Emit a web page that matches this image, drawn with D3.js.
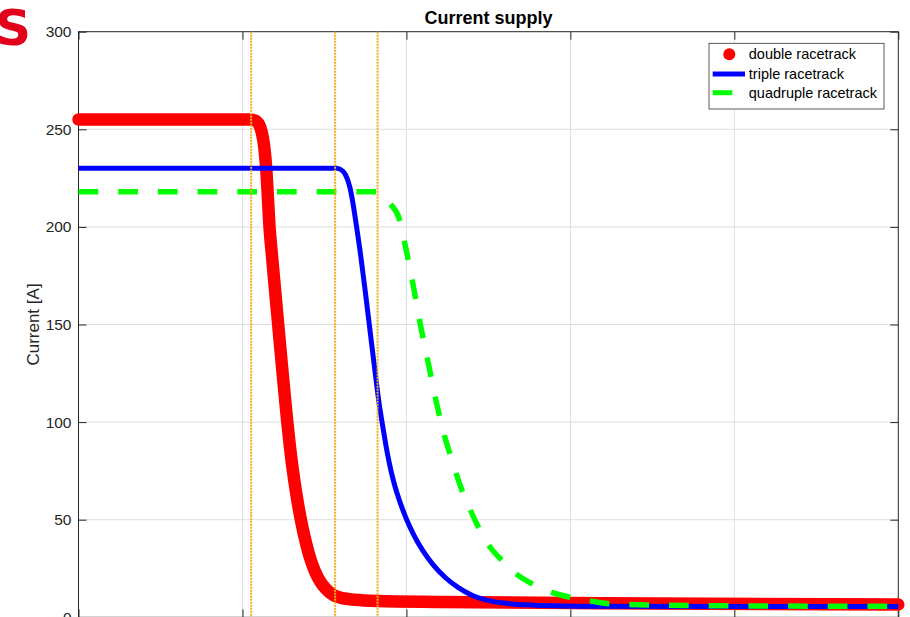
<!DOCTYPE html>
<html><head><meta charset="utf-8">
<script src="https://cdn.jsdelivr.net/npm/d3@7"></script>
<style>html,body{margin:0;padding:0;background:#fff;overflow:hidden}</style>
</head><body><svg id="chart" width="910" height="617"></svg>
<script>
const chartTitle = "Current supply";
const yLabel = "Current [A]";
const seriesNames = ["double racetrack", "triple racetrack", "quadruple racetrack"];
const yTicks = [0, 50, 100, 150, 200, 250, 300];
const xTicks = [0, 1, 2, 3, 4, 5];
const markerLines = [1.053, 1.565, 1.824];

const doubleX = [0, 1.046, 1.0765, 1.1009, 1.1192, 1.1344, 1.1466, 1.1558, 1.1649, 1.1771, 1.1985, 1.2168, 1.2351, 1.2534, 1.2717, 1.29, 1.3144, 1.3388, 1.3632, 1.3876, 1.412, 1.4425, 1.473, 1.5096, 1.5523, 1.6072, 1.6865, 1.8207, 2.2049, 3.1808, 5];
const doubleY = [255, 255, 254.5, 252.5, 248, 240, 228, 214, 200, 188, 168, 151, 134, 117.5, 101.5, 87, 71, 58, 47, 38, 30.5, 23.5, 18.5, 14.5, 11.5, 9.8, 9, 8.4, 7.9, 7.2, 6.5];

const tripleX = [0, 1.5748, 1.6132, 1.6376, 1.6559, 1.6742, 1.6925, 1.7169, 1.7474, 1.7779, 1.8084, 1.8328, 1.8572, 1.8816, 1.906, 1.9304, 1.9609, 2.0017, 2.0462, 2.1011, 2.1621, 2.2353, 2.3146, 2.4000, 2.5098, 2.65, 2.8452, 3.0587, 5];
const tripleY = [230, 230, 228.5, 225, 220, 212, 202, 188, 168, 147, 126, 110, 97, 85, 75, 67, 59, 50, 42, 34, 27, 20.5, 15.3, 11.3, 8.4, 6.8, 6, 5.7, 5.5];

const quadX = [0, 1.824, 1.86, 1.90, 1.957, 1.994, 2.037, 2.085, 2.134, 2.183, 2.232, 2.28, 2.33, 2.39, 2.44, 2.51, 2.585, 2.665, 2.77, 2.88, 2.99, 3.12, 3.23, 3.79, 5];
const quadY = [218, 218, 216.5, 212, 204, 190, 172, 150, 130, 110, 93, 80, 67, 55, 46, 36, 29, 22.5, 17, 13, 10.4, 8.4, 7, 6, 5.6];

const FONT = "'Liberation Sans', Arial, Helvetica, sans-serif";
const axisColor = "#262626";
const svg = d3.select("#chart");

const L = 78.5, R = 898.3, T = 31.7, B = 617.3;
const x = d3.scaleLinear().domain([0, 5]).range([L, R]);
const y = d3.scaleLinear().domain([0, 300]).range([B, T]);

// partial red logo letter
svg.append("text").attr("x", 31).attr("y", 45)
  .attr("text-anchor", "end")
  .attr("font-family", "'DejaVu Sans', Arial, sans-serif")
  .attr("font-weight", 900).attr("font-size", 50)
  .attr("fill", "#e2001a").text("S");

// grid
const grid = svg.append("g");
grid.selectAll("line.gy").data(yTicks.slice(1, -1)).join("line")
  .attr("x1", L).attr("x2", R).attr("y1", d => y(d)).attr("y2", d => y(d))
  .attr("stroke", "#dfdfdf").attr("stroke-width", 1);
grid.selectAll("line.gx").data(xTicks.slice(1, -1)).join("line")
  .attr("y1", T).attr("y2", B).attr("x1", d => x(d)).attr("x2", d => x(d))
  .attr("stroke", "#dfdfdf").attr("stroke-width", 1);

// axes
const tick = 8;
const gl = svg.append("g").attr("transform", `translate(${L},0)`)
  .call(d3.axisLeft(y).tickValues(yTicks).tickSizeInner(-tick).tickSizeOuter(0).tickPadding(7));
const gr = svg.append("g").attr("transform", `translate(${R},0)`)
  .call(d3.axisRight(y).tickValues(yTicks).tickSizeInner(-tick).tickSizeOuter(0).tickFormat(""));
const gb = svg.append("g").attr("transform", `translate(0,${B})`)
  .call(d3.axisBottom(x).tickValues(xTicks).tickSizeInner(-tick).tickSizeOuter(0).tickFormat(""));
const gt = svg.append("g").attr("transform", `translate(0,${T})`)
  .call(d3.axisTop(x).tickValues(xTicks).tickSizeInner(-tick).tickSizeOuter(0).tickFormat(""));
[gl, gr, gb, gt].forEach(g => {
  g.select(".domain").remove();
  g.selectAll(".tick line").attr("stroke", axisColor).attr("stroke-width", 1);
  g.selectAll(".tick text").attr("fill", axisColor).attr("font-family", FONT).attr("font-size", 15.5);
});
svg.append("rect").attr("x", L).attr("y", T).attr("width", R - L).attr("height", B - T)
  .attr("fill", "none").attr("stroke", axisColor).attr("stroke-width", 1);

// series
const line = d3.line().x(d => x(d[0])).y(d => y(d[1])).curve(d3.curveMonotoneX);
const dData = d3.zip(doubleX, doubleY);
const tData = d3.zip(tripleX, tripleY);
const qData = d3.zip(quadX, quadY);

svg.append("path").datum(dData).attr("d", line)
  .attr("fill", "none").attr("stroke", "#ff0000").attr("stroke-width", 12.5)
  .attr("stroke-linecap", "round").attr("stroke-linejoin", "round");
svg.append("path").datum(tData).attr("d", line)
  .attr("fill", "none").attr("stroke", "#0000ff").attr("stroke-width", 5)
  .attr("stroke-linejoin", "round");
svg.append("path").datum(qData).attr("d", line)
  .attr("fill", "none").attr("stroke", "#00ff00").attr("stroke-width", 5.5)
  .attr("stroke-dasharray", "19.7,20");

// vertical dotted marker lines
svg.selectAll("line.mk").data(markerLines).join("line")
  .attr("x1", d => x(d)).attr("x2", d => x(d)).attr("y1", T).attr("y2", B)
  .attr("stroke", "#EDB120").attr("stroke-width", 2).attr("stroke-dasharray", "2,1");

// title and label
svg.append("text").attr("x", (L + R) / 2).attr("y", 24).attr("text-anchor", "middle")
  .attr("font-family", FONT).attr("font-weight", "bold").attr("font-size", 18)
  .attr("fill", "#000").text(chartTitle);
svg.append("text").attr("transform", `translate(38.5,${(T + B) / 2}) rotate(-90)`)
  .attr("text-anchor", "middle").attr("font-family", FONT).attr("font-size", 17)
  .attr("fill", axisColor).text(yLabel);

// legend
const lg = svg.append("g");
lg.append("rect").attr("x", 709).attr("y", 43.3).attr("width", 175).attr("height", 65.7)
  .attr("fill", "#fff").attr("stroke", "#333").attr("stroke-width", 0.8);
const rows = [54.3, 74, 92.7];
lg.append("circle").attr("cx", 729.3).attr("cy", rows[0]).attr("r", 6).attr("fill", "#ff0000");
lg.append("line").attr("x1", 712.7).attr("x2", 745).attr("y1", rows[1]).attr("y2", rows[1])
  .attr("stroke", "#0000ff").attr("stroke-width", 5);
lg.append("line").attr("x1", 712.7).attr("x2", 732.3).attr("y1", rows[2]).attr("y2", rows[2])
  .attr("stroke", "#00ff00").attr("stroke-width", 5);
lg.selectAll("text").data(seriesNames).join("text")
  .attr("x", 748.8).attr("y", (d, i) => rows[i]).attr("dy", "0.35em")
  .attr("font-family", FONT).attr("font-size", 14.5).attr("fill", "#000").text(d => d);
</script></body></html>
